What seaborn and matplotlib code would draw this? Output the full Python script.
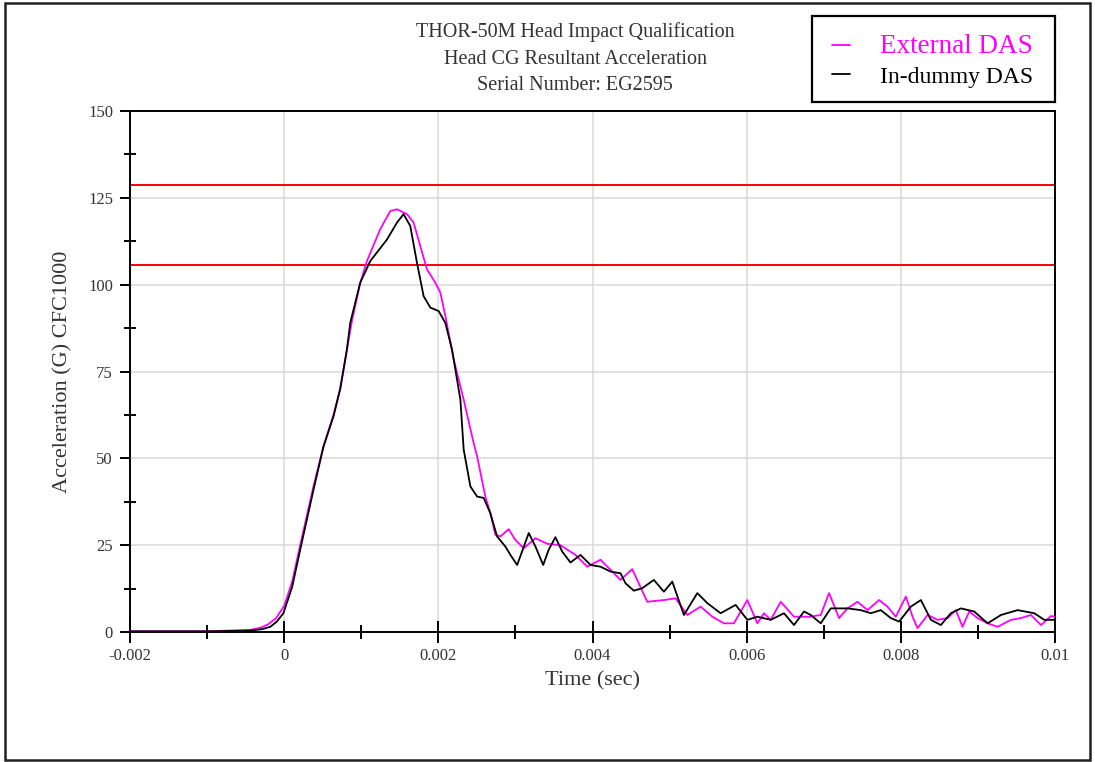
import numpy as np
import pandas as pd
import matplotlib
matplotlib.use("Agg")
import matplotlib.pyplot as plt
from matplotlib.patches import Rectangle
from matplotlib.lines import Line2D
from matplotlib.ticker import MultipleLocator, FuncFormatter
import seaborn as sns

# ---------------- data ----------------
title_lines = ["THOR-50M Head Impact Qualification",
               "Head CG Resultant Acceleration",
               "Serial Number: EG2595"]
series_names = ["External DAS", "In-dummy DAS"]
series_colors = ["#ff00ff", "#000000"]
corridor_limits = [105.6, 128.8]

ext_t_ms = [-2.0, -1.0, -0.442, -0.312, -0.208, -0.104, 0.0, 0.104, 0.208, 0.381,
            0.51, 0.64, 0.727, 0.814, 0.883, 0.987, 1.074, 1.247, 1.377, 1.464,
            1.594, 1.679, 1.766, 1.853, 1.961, 2.026, 2.091, 2.199, 2.329, 2.458,
            2.503, 2.61, 2.675, 2.74, 2.805, 2.913, 3.0, 3.108, 3.26, 3.412,
            3.584, 3.779, 3.931, 4.104, 4.234, 4.364, 4.516, 4.71, 4.926, 5.078,
            5.23, 5.403, 5.555, 5.705, 5.835, 6.009, 6.139, 6.225, 6.312, 6.442,
            6.614, 6.831, 6.961, 7.069, 7.199, 7.308, 7.438, 7.568, 7.718, 7.827,
            7.935, 8.065, 8.152, 8.217, 8.347, 8.477, 8.606, 8.714, 8.8, 8.887,
            8.996, 9.126, 9.256, 9.429, 9.558, 9.688, 9.818, 9.948, 10.0]
ext_g = [0.2, 0.2, 0.6, 1.2, 2.2, 4.0, 7.5, 14.5, 25, 42,
         53.4, 62.5, 70, 81.3, 90, 100.5, 106.8, 116, 121.2, 121.7,
         120.3, 117.9, 111.1, 104.4, 100.6, 97.7, 91, 78.5, 66.9, 54.4,
         50.6, 39, 34.2, 28, 27.5, 29.6, 26.5, 24.1, 27, 25.4,
         25, 22.2, 18.8, 20.8, 17.9, 15, 18.1, 8.7, 9.2, 9.7,
         4.9, 7.3, 4.4, 2.5, 2.5, 9.2, 2.5, 5.4, 3.5, 8.7,
         4.4, 4.4, 4.9, 11.2, 4, 6.8, 8.7, 6.3, 9.2, 7.3,
         4.4, 10.2, 4.4, 1.1, 4.9, 3.5, 4, 6.3, 1.5, 5.9,
         4, 2.5, 1.5, 3.5, 4, 4.9, 2, 4.6, 4.4]

dum_t_ms = [-2.0, -1.0, -0.44, -0.29, -0.18, -0.095, -0.01, 0.104, 0.208, 0.381,
            0.51, 0.64, 0.727, 0.814, 0.857, 0.987, 1.117, 1.334, 1.464, 1.549,
            1.636, 1.723, 1.809, 1.896, 2.004, 2.091, 2.178, 2.286, 2.329, 2.416,
            2.503, 2.588, 2.675, 2.762, 2.87, 2.935, 3.022, 3.087, 3.173, 3.26,
            3.36, 3.432, 3.519, 3.606, 3.714, 3.844, 3.974, 4.104, 4.234, 4.364,
            4.429, 4.536, 4.645, 4.796, 4.926, 5.035, 5.186, 5.36, 5.49, 5.662,
            5.857, 6.009, 6.139, 6.312, 6.484, 6.614, 6.744, 6.831, 6.961, 7.091,
            7.308, 7.481, 7.61, 7.74, 7.87, 7.978, 8.13, 8.26, 8.39, 8.519,
            8.649, 8.779, 8.952, 9.126, 9.299, 9.516, 9.731, 9.861, 10.0]
dum_g = [0.2, 0.2, 0.4, 0.8, 1.5, 3.0, 5.4, 13, 23.7, 41,
         53.4, 62.1, 70, 81.3, 89, 100.6, 106.8, 113, 117.9, 120.3,
         116.9, 106.3, 96.7, 93.4, 92.4, 89, 81.3, 66.9, 52.5, 41.9,
         39, 38.6, 34.2, 27.5, 24.6, 22.2, 19.3, 23.2, 28.5, 24.6,
         19.3, 23.7, 27.3, 23.2, 20, 22.2, 19.3, 18.8, 17.4, 16.9,
         14, 11.9, 12.6, 15, 11.6, 14.5, 4.9, 11.2, 8.3, 5.4,
         7.8, 3.5, 4.4, 3.5, 5.4, 2, 5.9, 4.9, 2.5, 6.8,
         6.8, 6.3, 5.4, 6.3, 4, 3, 7.3, 9.2, 3.5, 2,
         5.4, 6.8, 5.9, 2.5, 4.9, 6.3, 5.4, 3.5, 3.5]

x_ticks = [-0.002, 0, 0.002, 0.004, 0.006, 0.008, 0.01]
y_ticks = [0, 25, 50, 75, 100, 125, 150]

# ---------------- styling ----------------
sns.set_style("white")
plt.rcParams["font.family"] = ["Liberation Serif", "DejaVu Serif"]
TXT = "#333333"

df = pd.concat([
    pd.DataFrame({"t": np.array(ext_t_ms) / 1000.0, "g": ext_g, "series": series_names[0]}),
    pd.DataFrame({"t": np.array(dum_t_ms) / 1000.0, "g": dum_g, "series": series_names[1]}),
], ignore_index=True)

fig = plt.figure(figsize=(10.95, 7.62), dpi=100)
W, H = 1095.0, 762.0
ax = fig.add_axes([130 / W, 1 - 632 / H, (1055 - 130) / W, (632 - 111) / H])

ax.grid(True, which="major", color="#d9d9d9", linewidth=1.1, zorder=0)
ax.set_axisbelow(True)

for lim in corridor_limits:
    ax.axhline(lim, color="#ff0000", linewidth=1.4, zorder=2)

sns.lineplot(data=df, x="t", y="g", hue="series", hue_order=series_names,
             palette=dict(zip(series_names, series_colors)), estimator=None,
             sort=False, linewidth=1.3, ax=ax, zorder=3, legend=False)

ax.set_xlim(-0.002, 0.01)
ax.set_ylim(0, 150)
ax.set_xticks(x_ticks)
ax.set_yticks(y_ticks)
ax.xaxis.set_major_formatter(FuncFormatter(lambda v, p: "%g" % v))
ax.xaxis.set_minor_locator(MultipleLocator(0.001))
ax.yaxis.set_minor_locator(MultipleLocator(12.5))

ax.tick_params(axis="x", which="both", bottom=True, top=False)
ax.tick_params(axis="y", which="both", left=True, right=False)
ax.tick_params(axis="x", which="major", direction="inout", length=16.5, width=1.4,
               color="black", labelsize=12, labelcolor=TXT, pad=3)
ax.tick_params(axis="x", which="minor", direction="inout", length=9.4, width=1.4, color="black")
ax.tick_params(axis="y", which="major", direction="out", length=7.2, width=1.4,
               color="black", labelsize=12, labelcolor=TXT, pad=5)
ax.tick_params(axis="y", which="minor", direction="inout", length=8.6, width=1.4, color="black")

for s in ax.spines.values():
    s.set_visible(True)
    s.set_color("black")
    s.set_linewidth(1.4)

ax.set_xlabel("Time (sec)", fontsize=16, color=TXT)
ax.set_ylabel("Acceleration (G) CFC1000", fontsize=16, color=TXT)
ax.xaxis.set_label_coords(0.4995, -0.075)
ax.yaxis.set_label_coords(-0.062, 0.5)

# title lines
for i, line in enumerate(title_lines):
    fig.text(575 / W, 1 - (32 + 27 * i) / H, line, ha="center", va="center",
             fontsize=14.5, color=TXT)

# legend
handles = [Line2D([], [], color=c, linewidth=1.3) for c in series_colors]
leg = ax.legend(handles, series_names, loc="upper left",
                bbox_to_anchor=(832 / W, 1 - 34 / H), bbox_transform=fig.transFigure,
                frameon=False, fontsize=17, handlelength=0.75, handletextpad=1.3,
                labelspacing=0.3, borderpad=0, borderaxespad=0)
leg.get_texts()[0].set_fontsize(19.5)
for txt, c in zip(leg.get_texts(), series_colors):
    txt.set_color(c)
fig.patches.append(Rectangle((812 / W, 1 - 102 / H), (1055 - 812) / W, 86 / H,
                             transform=fig.transFigure, fill=False,
                             edgecolor="black", linewidth=1.6))

# outer frame
fig.patches.append(Rectangle((5 / W, 1 - 760 / H), (1090 - 5) / W, (760 - 3) / H,
                             transform=fig.transFigure, fill=False,
                             edgecolor="#222222", linewidth=1.8))

fig.savefig("out.png", dpi=100)
